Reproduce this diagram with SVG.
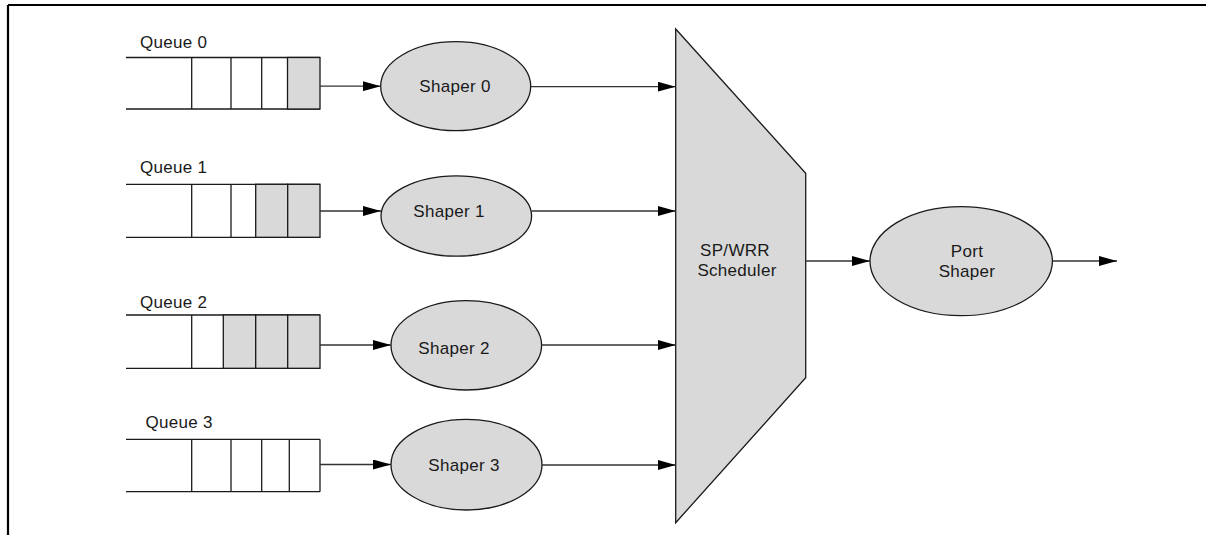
<svg xmlns="http://www.w3.org/2000/svg" width="1206" height="535" viewBox="0 0 1206 535">
<style>
.t{font-family:"Liberation Sans",Arial,sans-serif;font-size:17px;fill:#1a1a1a;letter-spacing:0.3px}
.c{text-anchor:middle}
.ln{stroke:#1a1a1a;stroke-width:1.3;fill:none}
.cell{stroke:#1a1a1a;stroke-width:1.3;fill:#fff}
.sh{stroke:#1a1a1a;stroke-width:1.3;fill:#d9d9d9}
.con{stroke:#333;stroke-width:1.3;fill:none;marker-end:url(#ah)}
</style>
<defs>
<marker id="ah" markerWidth="18" markerHeight="10" refX="18" refY="5" orient="auto" markerUnits="userSpaceOnUse">
<path d="M0,0 L18,5 L0,10 Z" fill="#000"/>
</marker>
</defs>
<rect width="1206" height="535" fill="#fff"/>
<g id="frame">
<line x1="8" y1="5" x2="1206" y2="5" stroke="#000" stroke-width="2.2"/>
<line x1="8" y1="5" x2="8" y2="535" stroke="#000" stroke-width="2.2"/>
</g>
<g id="queue0">
<text class="t" x="140" y="48">Queue 0</text>
<line class="ln" x1="126" y1="57.5" x2="320" y2="57.5"/>
<line class="ln" x1="126" y1="109" x2="320" y2="109"/>
<line class="ln" x1="191.7" y1="57.5" x2="191.7" y2="109"/>
<line class="ln" x1="231" y1="57.5" x2="231" y2="109"/>
<line class="ln" x1="261.7" y1="57.5" x2="261.7" y2="109"/>
<rect class="sh" x="287.5" y="57.5" width="32.5" height="51.5"/>
</g>
<g id="queue1">
<text class="t" x="140" y="172.5">Queue 1</text>
<line class="ln" x1="126" y1="184.3" x2="320" y2="184.3"/>
<line class="ln" x1="126" y1="237.3" x2="320" y2="237.3"/>
<line class="ln" x1="191.7" y1="184.3" x2="191.7" y2="237.3"/>
<line class="ln" x1="231" y1="184.3" x2="231" y2="237.3"/>
<rect class="sh" x="255.7" y="184.3" width="32" height="53"/>
<rect class="sh" x="287.7" y="184.3" width="32.3" height="53"/>
</g>
<g id="queue2">
<text class="t" x="140" y="307.5">Queue 2</text>
<line class="ln" x1="126" y1="315" x2="320" y2="315"/>
<line class="ln" x1="126" y1="368.3" x2="320" y2="368.3"/>
<line class="ln" x1="191.7" y1="315" x2="191.7" y2="368.3"/>
<rect class="sh" x="223.3" y="315" width="32.4" height="53.3"/>
<rect class="sh" x="255.7" y="315" width="32" height="53.3"/>
<rect class="sh" x="287.7" y="315" width="32.3" height="53.3"/>
</g>
<g id="queue3">
<text class="t" x="145.5" y="428.3">Queue 3</text>
<line class="ln" x1="126" y1="439.3" x2="320" y2="439.3"/>
<line class="ln" x1="126" y1="491.7" x2="320" y2="491.7"/>
<line class="ln" x1="191.7" y1="439.3" x2="191.7" y2="491.7"/>
<line class="ln" x1="231" y1="439.3" x2="231" y2="491.7"/>
<line class="ln" x1="261.7" y1="439.3" x2="261.7" y2="491.7"/>
<line class="ln" x1="289.3" y1="439.3" x2="289.3" y2="491.7"/>
<line class="ln" x1="320" y1="439.3" x2="320" y2="491.7"/>
</g>
<g id="shaper0">
<ellipse class="sh" cx="455.7" cy="86.2" rx="75" ry="44.5"/>
<text class="t c" x="455" y="92.3">Shaper 0</text>
</g>
<g id="shaper1">
<ellipse class="sh" cx="456.3" cy="216" rx="75.3" ry="40.2"/>
<text class="t c" x="449" y="216.7">Shaper 1</text>
</g>
<g id="shaper2">
<ellipse class="sh" cx="466.3" cy="345.3" rx="75.3" ry="44.7"/>
<text class="t c" x="454" y="354">Shaper 2</text>
</g>
<g id="shaper3">
<ellipse class="sh" cx="466.5" cy="464.7" rx="75.5" ry="45.3"/>
<text class="t c" x="464" y="471">Shaper 3</text>
</g>
<g id="scheduler">
<polygon class="sh" points="675.7,29 805.7,173.3 805.7,377.7 675.7,522.7"/>
<text class="t c" x="735" y="256">SP/WRR</text>
<text class="t c" x="737" y="275.5">Scheduler</text>
</g>
<g id="portshaper">
<ellipse class="sh" cx="961.2" cy="261.2" rx="91.2" ry="54.5"/>
<text class="t c" x="967" y="257.3">Port</text>
<text class="t c" x="967" y="276.7">Shaper</text>
</g>
<g id="connectors">
<line class="con" x1="320" y1="86.2" x2="380.7" y2="86.2"/>
<line class="con" x1="320" y1="211" x2="381" y2="211"/>
<line class="con" x1="320" y1="345" x2="391" y2="345"/>
<line class="con" x1="320" y1="464.5" x2="391" y2="464.5"/>
<line class="con" x1="530.7" y1="86.7" x2="675.7" y2="86.7"/>
<line class="con" x1="531.7" y1="211" x2="675.7" y2="211"/>
<line class="con" x1="541.6" y1="345" x2="675.7" y2="345"/>
<line class="con" x1="542" y1="465" x2="675.7" y2="465"/>
<line class="con" x1="805.7" y1="261" x2="870" y2="261"/>
<line class="con" x1="1052.4" y1="261" x2="1117" y2="261"/>
</g>
</svg>
